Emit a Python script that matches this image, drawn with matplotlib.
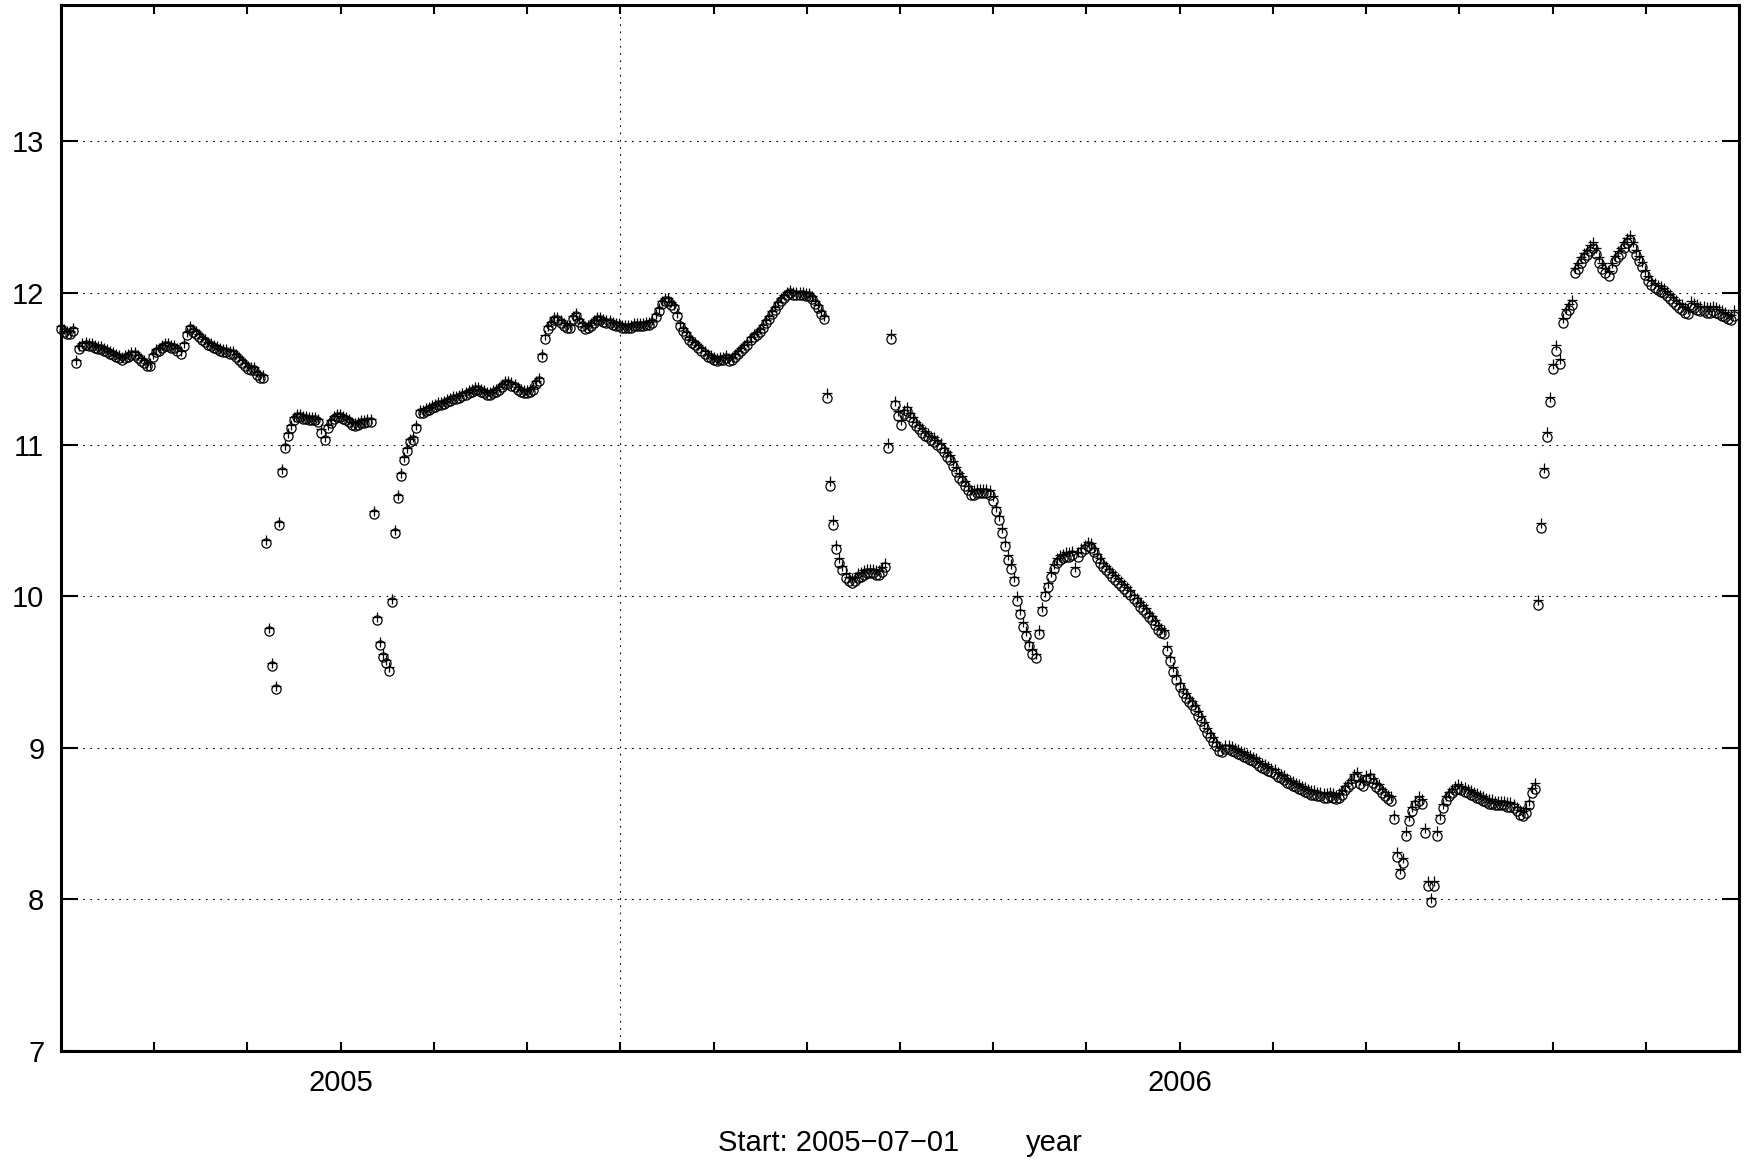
import numpy as np
import matplotlib
matplotlib.use("Agg")
from matplotlib import pyplot as plt

plt.rcParams['font.family'] = ['Liberation Sans', 'DejaVu Sans']

# daily level readings (circle series), one value per day from the start
level = [
    11.76, 11.74, 11.73, 11.73, 11.75, 11.54, 11.63, 11.65, 11.66, 11.65,
    11.65, 11.64, 11.63, 11.63, 11.62, 11.61, 11.60, 11.59, 11.58, 11.57,
    11.56, 11.57, 11.58, 11.59, 11.59, 11.57, 11.55, 11.54, 11.52, 11.52,
    11.58, 11.61, 11.62, 11.64, 11.65, 11.65, 11.64, 11.64, 11.62, 11.60,
    11.65, 11.72, 11.76, 11.74, 11.73, 11.71, 11.69, 11.68, 11.66, 11.65,
    11.64, 11.63, 11.62, 11.61, 11.61, 11.60, 11.60, 11.58, 11.56, 11.54,
    11.52, 11.50, 11.49, 11.49, 11.46, 11.44, 11.44, 10.35, 9.77, 9.54,
    9.39, 10.47, 10.82, 10.98, 11.06, 11.11, 11.16, 11.18, 11.18, 11.17,
    11.17, 11.16, 11.16, 11.16, 11.15, 11.08, 11.03, 11.11, 11.14, 11.17,
    11.18, 11.18, 11.17, 11.16, 11.15, 11.13, 11.12, 11.13, 11.14, 11.14,
    11.15, 11.15, 10.54, 9.84, 9.68, 9.60, 9.56, 9.51, 9.96, 10.42,
    10.65, 10.79, 10.90, 10.96, 11.02, 11.03, 11.11, 11.21, 11.21, 11.22,
    11.23, 11.24, 11.25, 11.26, 11.26, 11.27, 11.28, 11.29, 11.30, 11.30,
    11.31, 11.32, 11.33, 11.34, 11.35, 11.36, 11.36, 11.35, 11.34, 11.33,
    11.33, 11.34, 11.35, 11.36, 11.38, 11.40, 11.40, 11.39, 11.38, 11.36,
    11.35, 11.34, 11.34, 11.35, 11.36, 11.40, 11.42, 11.58, 11.70, 11.76,
    11.79, 11.82, 11.82, 11.80, 11.78, 11.77, 11.77, 11.83, 11.85, 11.81,
    11.78, 11.76, 11.77, 11.78, 11.80, 11.82, 11.82, 11.81, 11.80, 11.80,
    11.79, 11.78, 11.78, 11.77, 11.77, 11.77, 11.77, 11.78, 11.78, 11.78,
    11.78, 11.79, 11.79, 11.80, 11.84, 11.88, 11.93, 11.95, 11.95, 11.92,
    11.90, 11.85, 11.78, 11.75, 11.72, 11.69, 11.67, 11.66, 11.64, 11.62,
    11.60, 11.58, 11.57, 11.56, 11.55, 11.56, 11.56, 11.57, 11.55, 11.56,
    11.58, 11.60, 11.62, 11.64, 11.66, 11.69, 11.71, 11.72, 11.74, 11.77,
    11.80, 11.83, 11.86, 11.89, 11.92, 11.95, 11.97, 11.99, 12.00, 11.99,
    11.99, 11.99, 11.99, 11.98, 11.98, 11.96, 11.93, 11.90, 11.86, 11.83,
    11.31, 10.73, 10.47, 10.31, 10.22, 10.17, 10.12, 10.10, 10.09, 10.10,
    10.12, 10.13, 10.14, 10.15, 10.15, 10.15, 10.14, 10.14, 10.16, 10.19,
    10.98, 11.70, 11.26, 11.19, 11.13, 11.20, 11.22, 11.18, 11.15, 11.12,
    11.10, 11.08, 11.06, 11.05, 11.03, 11.02, 11.00, 10.98, 10.95, 10.92,
    10.90, 10.86, 10.82, 10.78, 10.76, 10.73, 10.70, 10.67, 10.67, 10.68,
    10.68, 10.68, 10.68, 10.67, 10.63, 10.56, 10.50, 10.42, 10.33, 10.24,
    10.18, 10.10, 9.97, 9.88, 9.80, 9.74, 9.67, 9.62, 9.59, 9.75,
    9.90, 10.00, 10.06, 10.13, 10.18, 10.22, 10.24, 10.25, 10.26, 10.26,
    10.27, 10.16, 10.26, 10.29, 10.31, 10.33, 10.32, 10.29, 10.25, 10.22,
    10.19, 10.17, 10.15, 10.13, 10.11, 10.09, 10.07, 10.05, 10.03, 10.01,
    9.98, 9.96, 9.93, 9.91, 9.89, 9.86, 9.84, 9.81, 9.78, 9.76,
    9.75, 9.64, 9.57, 9.50, 9.45, 9.40, 9.36, 9.33, 9.30, 9.28,
    9.25, 9.21, 9.18, 9.14, 9.10, 9.07, 9.04, 9.01, 8.98, 8.97,
    8.99, 8.99, 8.98, 8.97, 8.96, 8.95, 8.94, 8.93, 8.92, 8.91,
    8.90, 8.88, 8.87, 8.86, 8.85, 8.84, 8.83, 8.81, 8.80, 8.79,
    8.77, 8.76, 8.75, 8.74, 8.73, 8.72, 8.71, 8.70, 8.69, 8.69,
    8.68, 8.68, 8.67, 8.67, 8.68, 8.67, 8.66, 8.67, 8.69, 8.72,
    8.74, 8.76, 8.80, 8.81, 8.76, 8.75, 8.79, 8.80, 8.77, 8.74,
    8.73, 8.70, 8.68, 8.66, 8.65, 8.53, 8.28, 8.17, 8.24, 8.42,
    8.52, 8.58, 8.62, 8.65, 8.63, 8.44, 8.09, 7.98, 8.09, 8.42,
    8.53, 8.60, 8.65, 8.68, 8.70, 8.72, 8.73, 8.72, 8.71, 8.70,
    8.69, 8.68, 8.67, 8.66, 8.65, 8.64, 8.63, 8.63, 8.62, 8.62,
    8.62, 8.62, 8.61, 8.61, 8.60, 8.58, 8.56, 8.55, 8.57, 8.62,
    8.70, 8.73, 9.94, 10.45, 10.81, 11.05, 11.28, 11.50, 11.62, 11.53,
    11.80, 11.86, 11.89, 11.92, 12.13, 12.16, 12.20, 12.23, 12.25, 12.28,
    12.30, 12.26, 12.20, 12.16, 12.13, 12.11, 12.16, 12.21, 12.24, 12.26,
    12.30, 12.33, 12.35, 12.30, 12.25, 12.21, 12.17, 12.12, 12.08, 12.05,
    12.03, 12.02, 12.01, 12.00, 11.98, 11.96, 11.94, 11.92, 11.90, 11.89,
    11.87, 11.86, 11.91, 11.90, 11.89, 11.88, 11.88, 11.87, 11.87, 11.88,
    11.87, 11.86, 11.85, 11.84, 11.83, 11.82, 11.85,
]

# the "+" series sits a little above the circles; shift per period (days)
plus_from_day = [0, 250, 480]
plus_shift = [0.02, 0.03, 0.035]

month_len = 30.42
n_months = 18
year_ticks = [3, 12]
year_labels = ['2005', '2006']
grid_month = 6
y_lo, y_hi = 7, 13.9
start_text = 'Start: 2005\u221207\u221201'
unit_text = 'year'

days = np.arange(len(level))
level = np.array(level)
bounds = plus_from_day[1:] + [len(level)]
shift = np.repeat(plus_shift, np.diff([0] + bounds))
plus = level + shift

fig = plt.figure(figsize=(17.53, 11.67), dpi=100)
ax = fig.add_axes([0.0348, 0.0994, 0.9572, 0.8963])

ax.plot(days, level, 'o', mfc='none', mec='black', ms=6.6, mew=0.9, clip_on=False, zorder=3)
ax.plot(days, plus, '+', color='black', ms=7.2, mew=0.9, clip_on=False, zorder=3)

xmax = n_months * month_len
ax.set_xlim(0, xmax)
ax.set_ylim(y_lo, y_hi)

# month ticks, year labels only on two of them
xt = np.arange(n_months + 1) * month_len
xl = [''] * len(xt)
for m, lab in zip(year_ticks, year_labels):
    xl[m] = lab
ax.set_xticks(xt)
ax.set_xticklabels(xl)
ax.set_xticks([grid_month * month_len], minor=True)
ax.set_yticks(range(7, 14))

ax.tick_params(axis='x', which='major', direction='in', length=6.5, width=1.5,
               top=True, bottom=True, labelsize=21, pad=13)
ax.tick_params(axis='x', which='minor', direction='in', length=12, width=1.5,
               top=True, bottom=True)
ax.tick_params(axis='y', which='major', direction='in', length=12, width=1.5,
               left=True, right=True, labelsize=21, pad=12)

for v in range(8, 14):
    ax.axhline(v, color='black', lw=0.8, ls=(0, (1.5, 5)), zorder=1)
ax.axvline(grid_month * month_len, color='black', lw=0.8, ls=(0, (1.5, 5)), zorder=1)

for s in ax.spines.values():
    s.set_linewidth(2.2)

fig.text(718 / 1753, 1 - 1143 / 1167, start_text, fontsize=21, ha='left', va='center')
fig.text(1026 / 1753, 1 - 1143 / 1167, unit_text, fontsize=21, ha='left', va='center')

fig.savefig('out.png', dpi=100)
